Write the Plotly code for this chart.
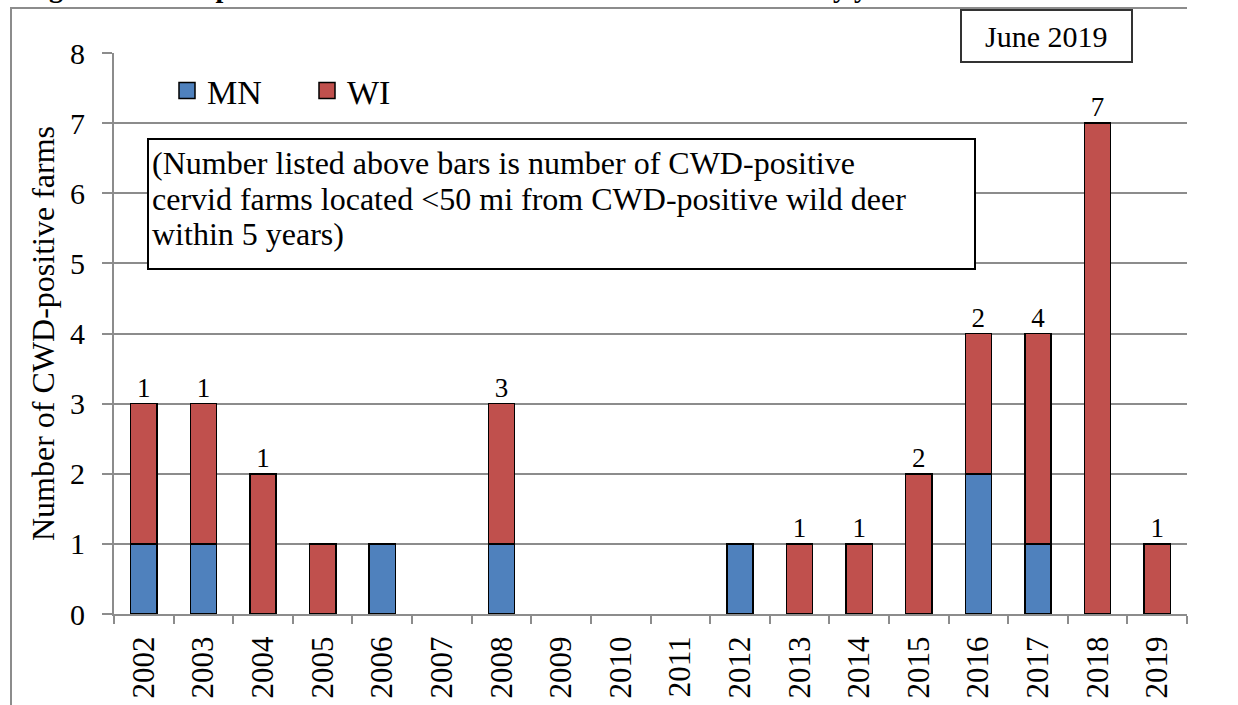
import plotly.graph_objects as go

years = ["2002", "2003", "2004", "2005", "2006", "2007", "2008", "2009", "2010",
         "2011", "2012", "2013", "2014", "2015", "2016", "2017", "2018", "2019"]
mn = [1, 1, 0, 0, 1, 0, 1, 0, 0, 0, 1, 0, 0, 0, 2, 1, 0, 0]
wi = [2, 2, 2, 1, 0, 0, 2, 0, 0, 0, 0, 1, 1, 2, 2, 3, 7, 1]
near_labels = ["1", "1", "1", "", "", "", "3", "", "", "", "", "1", "1", "2", "2", "4", "7", "1"]
note_lines = ["(Number listed above bars is number of CWD-positive",
              "cervid farms located &lt;50 mi from CWD-positive wild deer",
              "within 5 years)"]

MN_COLOR = "#4F81BD"
WI_COLOR = "#C0504D"
GRID = "#8C8C8C"
FONT = "Liberation Serif"

W, H = 1238, 705
L, R, T, B = 114, 1187, 53, 614


def px(x):
    return (x - L) / (R - L)


def py(y):
    return (B - y) / (B - T)


def nz(v):
    return [None if a == 0 else a for a in v]


totals = [a + b for a, b in zip(mn, wi)]

fig = go.Figure()
fig.add_trace(go.Bar(x=years, y=nz(mn), name="MN", marker=dict(color=MN_COLOR, line=dict(color="black", width=1.5)),
                     showlegend=False, hoverinfo="x+y+name"))
fig.add_trace(go.Bar(x=years, y=nz(wi), name="WI", marker=dict(color=WI_COLOR, line=dict(color="black", width=1.5)),
                     showlegend=False, hoverinfo="x+y+name"))
# legend proxies
fig.add_trace(go.Scatter(x=[None], y=[None], mode="markers", name="MN",
                         marker=dict(symbol="square", size=16, color=MN_COLOR, line=dict(color="black", width=1.5))))
fig.add_trace(go.Scatter(x=[None], y=[None], mode="markers", name="WI",
                         marker=dict(symbol="square", size=16, color=WI_COLOR, line=dict(color="black", width=1.5))))
# numbers above bars
fig.add_trace(go.Scatter(x=years, y=totals, mode="text", text=near_labels, textposition="top center",
                         textfont=dict(family=FONT, size=27, color="black"), showlegend=False, hoverinfo="skip"))

shapes = [
    dict(type="line", xref="paper", yref="paper", x0=px(11), x1=px(11), y0=py(8), y1=py(706),
         line=dict(color=GRID, width=2)),
    dict(type="line", xref="paper", yref="paper", x0=px(10), x1=px(1187), y0=py(8), y1=py(8),
         line=dict(color=GRID, width=2)),
    dict(type="rect", xref="paper", yref="paper", x0=px(148), x1=px(975), y0=py(139), y1=py(269),
         line=dict(color="black", width=2), fillcolor="white", layer="above"),
    dict(type="rect", xref="paper", yref="paper", x0=px(961), x1=px(1132), y0=py(10), y1=py(62),
         line=dict(color="#333333", width=2), fillcolor="white", layer="above"),
]

annotations = [
    dict(text="<b>Figure 4. CWD-positive cervid farms in Minnesota and Wisconsin by year detected</b>",
         xref="paper", yref="paper", x=px(22), y=py(5), xanchor="left", yanchor="bottom",
         showarrow=False, font=dict(family=FONT, size=28, color="black")),
    dict(text="June 2019", xref="paper", yref="paper", x=px(1046), y=py(37), xanchor="center", yanchor="middle",
         showarrow=False, font=dict(family=FONT, size=30, color="black")),
]
for i, line in enumerate(note_lines):
    annotations.append(dict(text=line, xref="paper", yref="paper", x=px(150), y=py(163 + 35.5 * i),
                            xanchor="left", yanchor="middle", align="left", showarrow=False,
                            font=dict(family=FONT, size=32, color="black")))

fig.update_layout(
    width=W, height=H,
    margin=dict(l=L, r=W - R, t=T, b=H - B, pad=0, autoexpand=False),
    paper_bgcolor="white", plot_bgcolor="white",
    barmode="stack", bargap=0.56,
    font=dict(family=FONT, size=30, color="black"),
    shapes=shapes, annotations=annotations,
    legend=dict(orientation="h", x=px(167), y=py(91), xanchor="left", yanchor="middle", traceorder="normal",
                font=dict(family=FONT, size=34, color="black"), bgcolor="rgba(0,0,0,0)",
                entrywidth=95, entrywidthmode="pixels", itemwidth=30),
)
fig.update_xaxes(type="category", categoryorder="array", categoryarray=years, range=[-0.5, len(years) - 0.5],
                 tickangle=-90, ticks="outside", tickson="boundaries", ticklen=8, tickwidth=2, tickcolor=GRID,
                 showline=True, linecolor=GRID, linewidth=2, showgrid=False, ticklabelstandoff=8,
                 automargin=False, tickfont=dict(family=FONT, size=31, color="black"))
fig.update_yaxes(range=[0, 8], dtick=1, tick0=0, ticks="outside", ticklen=10, tickwidth=2, tickcolor=GRID,
                 showline=True, linecolor=GRID, linewidth=2, showgrid=True, gridcolor=GRID, gridwidth=2,
                 zeroline=False, ticklabelstandoff=11, automargin=False,
                 tickfont=dict(family=FONT, size=30, color="black"),
                 title=dict(text="Number of CWD-positive farms", font=dict(family=FONT, size=32, color="black"),
                            standoff=6))

fig.write_html("out.html", config={"displayModeBar": False},
               post_script="document.body.style.margin='0';document.body.style.overflow='hidden';")
